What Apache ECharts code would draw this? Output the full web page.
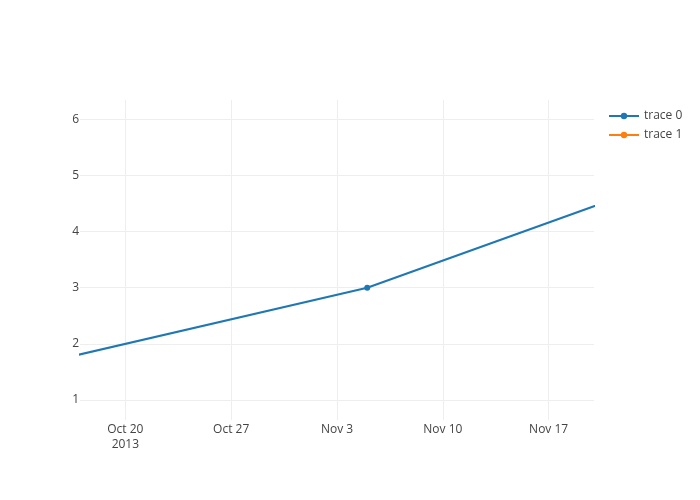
<!DOCTYPE html>
<html>
<head>
<meta charset="utf-8">
<script src="https://cdn.jsdelivr.net/npm/echarts@6/dist/echarts.min.js"></script>
<style>html,body{margin:0;padding:0;background:#fff;}#c{width:700px;height:500px;}</style>
</head>
<body>
<div id="c"></div>
<script>
const seriesNames = ['trace 0', 'trace 1'];
const trace0X = ['2013-10-04', '2013-11-05', '2013-12-06'];
const trace0Y = [1, 3, 6];
const trace1X = [];
const trace1Y = [];
const xTickDates = ['2013-10-20', '2013-10-27', '2013-11-03', '2013-11-10', '2013-11-17'];
const xTickLabels = ['Oct 20\n2013', 'Oct 27', 'Nov 3', 'Nov 10', 'Nov 17'];
const yTicks = [1, 2, 3, 4, 5, 6];
const xRange = ['2013-10-17', '2013-11-20'];
const yRange = [0.644, 6.344];

const DAY = 86400000;
const ref = Date.parse(xTickDates[0]);
const toDay = s => (Date.parse(s) - ref) / DAY;
const xTickVals = xTickDates.map(toDay);
const labelMap = {};
xTickVals.forEach((d, i) => { labelMap[d] = xTickLabels[i]; });

const chart = echarts.init(document.getElementById('c'), null, {renderer: 'canvas'});
const font = '"Open Sans", "Noto Sans", sans-serif';
chart.setOption({
  animation: false,
  color: ['#1f77b4', '#ff7f0e'],
  textStyle: {fontFamily: font},
  grid: {left: 80, right: 106, top: 100, bottom: 80, containLabel: false},
  legend: {
    orient: 'vertical', left: 603, top: 104, itemWidth: 30, itemHeight: 8, itemGap: 5,
    textStyle: {color: '#444', fontSize: 12, fontFamily: font, lineHeight: 14},
    data: seriesNames
  },
  xAxis: {
    type: 'value', min: toDay(xRange[0]), max: toDay(xRange[1]),
    axisLine: {show: false},
    axisTick: {show: false, customValues: xTickVals},
    splitLine: {show: true, lineStyle: {color: '#eee', width: 1}},
    axisLabel: {
      customValues: xTickVals,
      color: '#444', fontSize: 12, fontFamily: font, margin: 2, lineHeight: 15,
      formatter: v => labelMap[v] || ''
    }
  },
  yAxis: {
    type: 'value', min: yRange[0], max: yRange[1],
    axisLine: {show: false},
    axisTick: {show: false, customValues: yTicks},
    splitLine: {show: true, lineStyle: {color: '#eee', width: 1}},
    axisLabel: {
      customValues: yTicks,
      color: '#444', fontSize: 12, fontFamily: font, margin: 1,
      formatter: v => String(v)
    }
  },
  series: [
    {
      name: seriesNames[0], type: 'line', clip: true,
      data: trace0X.map((d, i) => [toDay(d), trace0Y[i]]),
      symbol: 'circle', symbolSize: 6, showSymbol: true,
      lineStyle: {width: 2, color: '#1f77b4'}, itemStyle: {color: '#1f77b4'}
    },
    {
      name: seriesNames[1], type: 'line', clip: true,
      data: trace1X.map((d, i) => [toDay(d), trace1Y[i]]),
      symbol: 'circle', symbolSize: 6,
      lineStyle: {width: 2, color: '#ff7f0e'}, itemStyle: {color: '#ff7f0e'}
    }
  ]
});
</script>
</body>
</html>
